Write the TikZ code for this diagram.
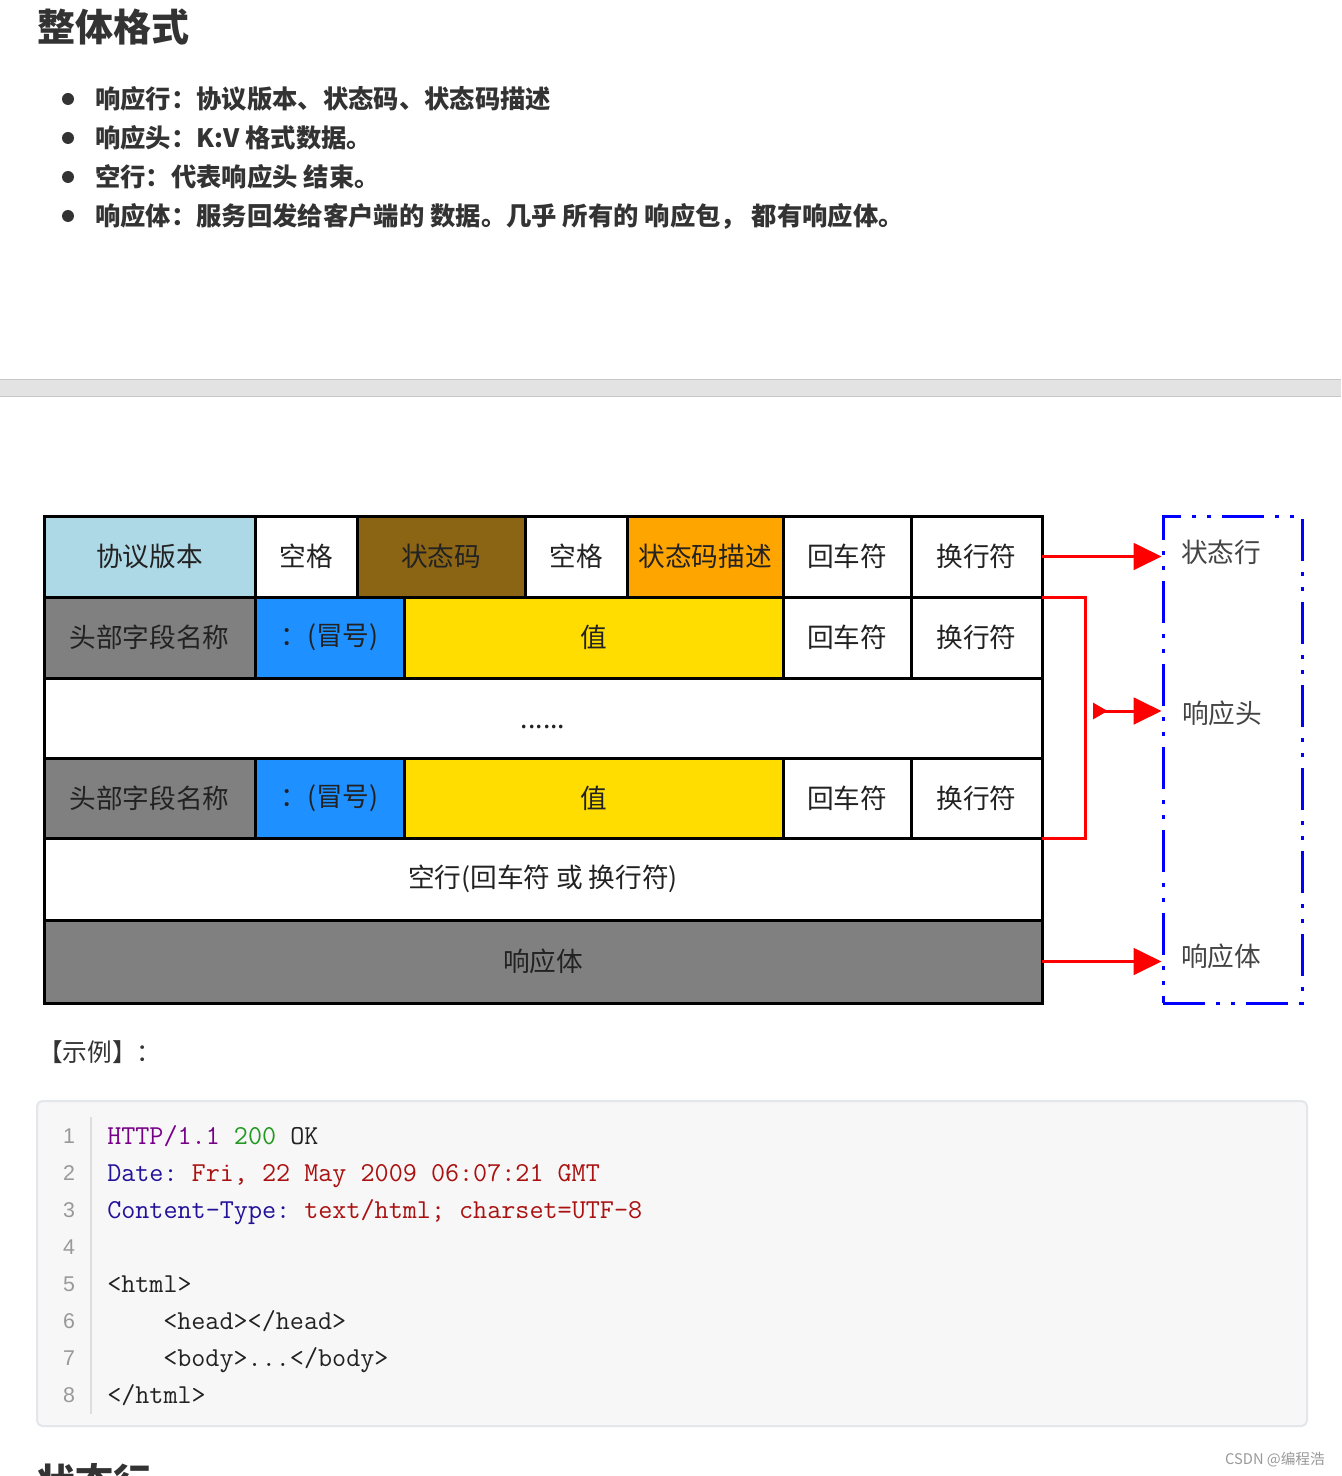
\documentclass[tikz,border=0pt]{standalone}
\usepackage{fontspec}
\setmainfont{Noto Sans CJK SC}
\newfontfamily\numfont{Liberation Sans}
\usetikzlibrary{arrows.meta}
\definecolor{txt}{HTML}{333333}
\definecolor{celltxt}{HTML}{222222}
\definecolor{lblue}{HTML}{ADD8E6}
\definecolor{brownc}{RGB}{139,101,20}
\definecolor{orangec}{HTML}{FFA500}
\definecolor{grayc}{HTML}{808080}
\definecolor{bluec}{HTML}{1E90FF}
\definecolor{yellowc}{HTML}{FFDD00}
\definecolor{sepfill}{HTML}{E3E3E3}
\definecolor{sepline}{HTML}{C8C8C8}
\definecolor{codebg}{HTML}{F7F7F7}
\definecolor{codeborder}{HTML}{E3E6EA}
\definecolor{gutter}{HTML}{DDDDDD}
\definecolor{lnum}{HTML}{999999}
\definecolor{cpurple}{HTML}{770088}
\definecolor{cgreen}{HTML}{229922}
\definecolor{cnavy}{HTML}{221199}
\definecolor{cred}{HTML}{AA1111}
\definecolor{cdark}{HTML}{222222}
\definecolor{boxblue}{HTML}{0000FF}
\definecolor{lab}{HTML}{444444}
\newcommand\cellbox[7]{\node[cellst, fill=#6, minimum width={(#4-#2)*0.75pt}, minimum height={(#5-#3)*0.75pt}] (#1) at ({(#2+#4)/2},{(#3+#5)/2}) {#7};}
\tikzset{
  cellst/.style={draw=black, line width=2.25pt, inner sep=0pt, outer sep=0pt, text=celltxt, font=\fontsize{20}{24}\selectfont},
  bullettxt/.style={anchor=west, inner sep=0pt, text=txt, font=\fontsize{19}{23}\selectfont\bfseries},
  codeline/.style={anchor=base west, inner sep=0pt, text=cdark, font=\fontsize{20.5}{24}\selectfont\ttfamily\frenchspacing},
  numst/.style={anchor=base, inner sep=0pt, text=lnum, font=\fontsize{16}{19}\selectfont\numfont},
  redarrow/.style={draw=red, line width=2.25pt, -{Triangle[length=21pt,width=20pt]}},
  redline/.style={draw=red, line width=2.25pt},
  grplabel/.style={inner sep=0pt, text=lab, font=\fontsize{20}{24}\selectfont},
}
\begin{document}
\begin{tikzpicture}[x=0.75pt,y=-0.75pt]
\useasboundingbox[fill=white] (0,0) rectangle (1341,1476);

% title and bullets
\node[anchor=west, inner sep=0pt, text=txt, font=\fontsize{28.5}{32}\selectfont\bfseries] (title) at (37,27) {整体格式};
\foreach \yy/\btxt [count=\i] in {99/{响应行：协议版本、状态码、状态码描述},138/{响应头：K:V 格式数据。},177/{空行：代表响应头 结束。},216/{响应体：服务回发给客户端的 数据。几乎 所有的 响应包， 都有响应体。}}{
  \fill[txt] (68,\yy) circle (6);
  \node[bullettxt] (b\i) at (95,\yy) {\btxt};
}

% separator band
\fill[sepfill] (0,379) rectangle (1341,397);
\draw[sepline, line width=1pt] (0,379.5) -- (1341,379.5);
\draw[sepline, line width=0.8pt] (0,396.5) -- (1341,396.5);

% diagram rows
\cellbox{c11}{44}{516}{255}{597}{lblue}{协议版本}
\cellbox{c12}{255}{516}{357}{597}{white}{空格}
\cellbox{c13}{357}{516}{525}{597}{brownc}{状态码}
\cellbox{c14}{525}{516}{627}{597}{white}{空格}
\cellbox{c15}{627}{516}{783}{597}{orangec}{状态码描述}
\cellbox{c16}{783}{516}{911}{597}{white}{回车符}
\cellbox{c17}{911}{516}{1042}{597}{white}{换行符}

\cellbox{c21}{44}{597}{255}{678}{grayc}{头部字段名称}
\cellbox{c22}{255}{597}{404}{678}{bluec}{：(冒号)}
\cellbox{c23}{404}{597}{783}{678}{yellowc}{值}
\cellbox{c24}{783}{597}{911}{678}{white}{回车符}
\cellbox{c25}{911}{597}{1042}{678}{white}{换行符}

\cellbox{c3}{44}{678}{1042}{758}{white}{\raisebox{-8pt}[0pt][0pt]{......}}

\cellbox{c41}{44}{758}{255}{838}{grayc}{头部字段名称}
\cellbox{c42}{255}{758}{404}{838}{bluec}{：(冒号)}
\cellbox{c43}{404}{758}{783}{838}{yellowc}{值}
\cellbox{c44}{783}{758}{911}{838}{white}{回车符}
\cellbox{c45}{911}{758}{1042}{838}{white}{换行符}

\cellbox{c5}{44}{838}{1042}{920}{white}{空行(回车符 或 换行符)}
\cellbox{c6}{44}{920}{1042}{1003}{grayc}{响应体}

% blue dash-dot-dot group box
\node[draw=boxblue, line width=2.25pt, dash pattern=on 31.5pt off 8.25pt on 3pt off 8.25pt on 3pt off 8.25pt, minimum width={139*0.75pt}, minimum height={487*0.75pt}, inner sep=0pt] (grp) at (1232.5,759.5) {};
\node[grplabel] (l1) at (1221,552) {状态行};
\node[grplabel] (l2) at (1222,713) {响应头};
\node[grplabel] (l3) at (1221,956) {响应体};

% red connectors
\draw[redarrow] (c17.east) -- (c17.east -| grp.west);
\coordinate (bx) at (1085,700);
\draw[redline] (c25.north east) -| (bx) |- (c45.south east);
\coordinate (hs) at (1093,711);
\draw[redline, {Triangle[reversed,length=11pt,width=12pt]}-{Triangle[length=21pt,width=20pt]}] (hs) -- (hs -| grp.west);
\draw[redarrow] (c6.east) -- (c6.east -| grp.west);

% example label
\node[anchor=west, inner sep=0pt, text=txt, font=\fontsize{18.5}{22}\selectfont] (ex) at (38,1052) {【示例】：};

% code block
\draw[codeborder, fill=codebg, line width=1.5pt, rounded corners=4pt] (37,1101) rectangle (1307,1426);
\draw[gutter, line width=1.5pt] (91,1117) -- (91,1414);
\foreach \i in {1,...,8}{
  \node[numst] (n\i) at (69,{1143+37*(\i-1)}) {\i};
}
\node[codeline] (k1) at (107,1144) {\textcolor{cpurple}{HTTP/1.1} \textcolor{cgreen}{200} OK};
\node[codeline] (k2) at (107,1181) {\textcolor{cnavy}{Date:} \textcolor{cred}{Fri, 22 May 2009 06:07:21 GMT}};
\node[codeline] (k3) at (107,1218) {\textcolor{cnavy}{Content-Type:} \textcolor{cred}{text/html; charset=UTF-8}};
\node[codeline] (k5) at (107,1292) {<html>};
\node[codeline] (k6) at (163,1329) {<head></head>};
\node[codeline] (k7) at (163,1366) {<body>...</body>};
\node[codeline] (k8) at (107,1403) {</html>};

% watermark and cut-off heading
\node[anchor=east, inner sep=0pt, text=lnum, font=\fontsize{11}{13}\selectfont] (wm) at (1325,1460) {CSDN @编程浩};
\begin{scope}
\clip (0,0) rectangle (1341,1476);
\node[anchor=west, inner sep=0pt, text=txt, font=\fontsize{28.5}{32}\selectfont\bfseries] (h2) at (37,1482) {状态行};
\end{scope}
\end{tikzpicture}
\end{document}
